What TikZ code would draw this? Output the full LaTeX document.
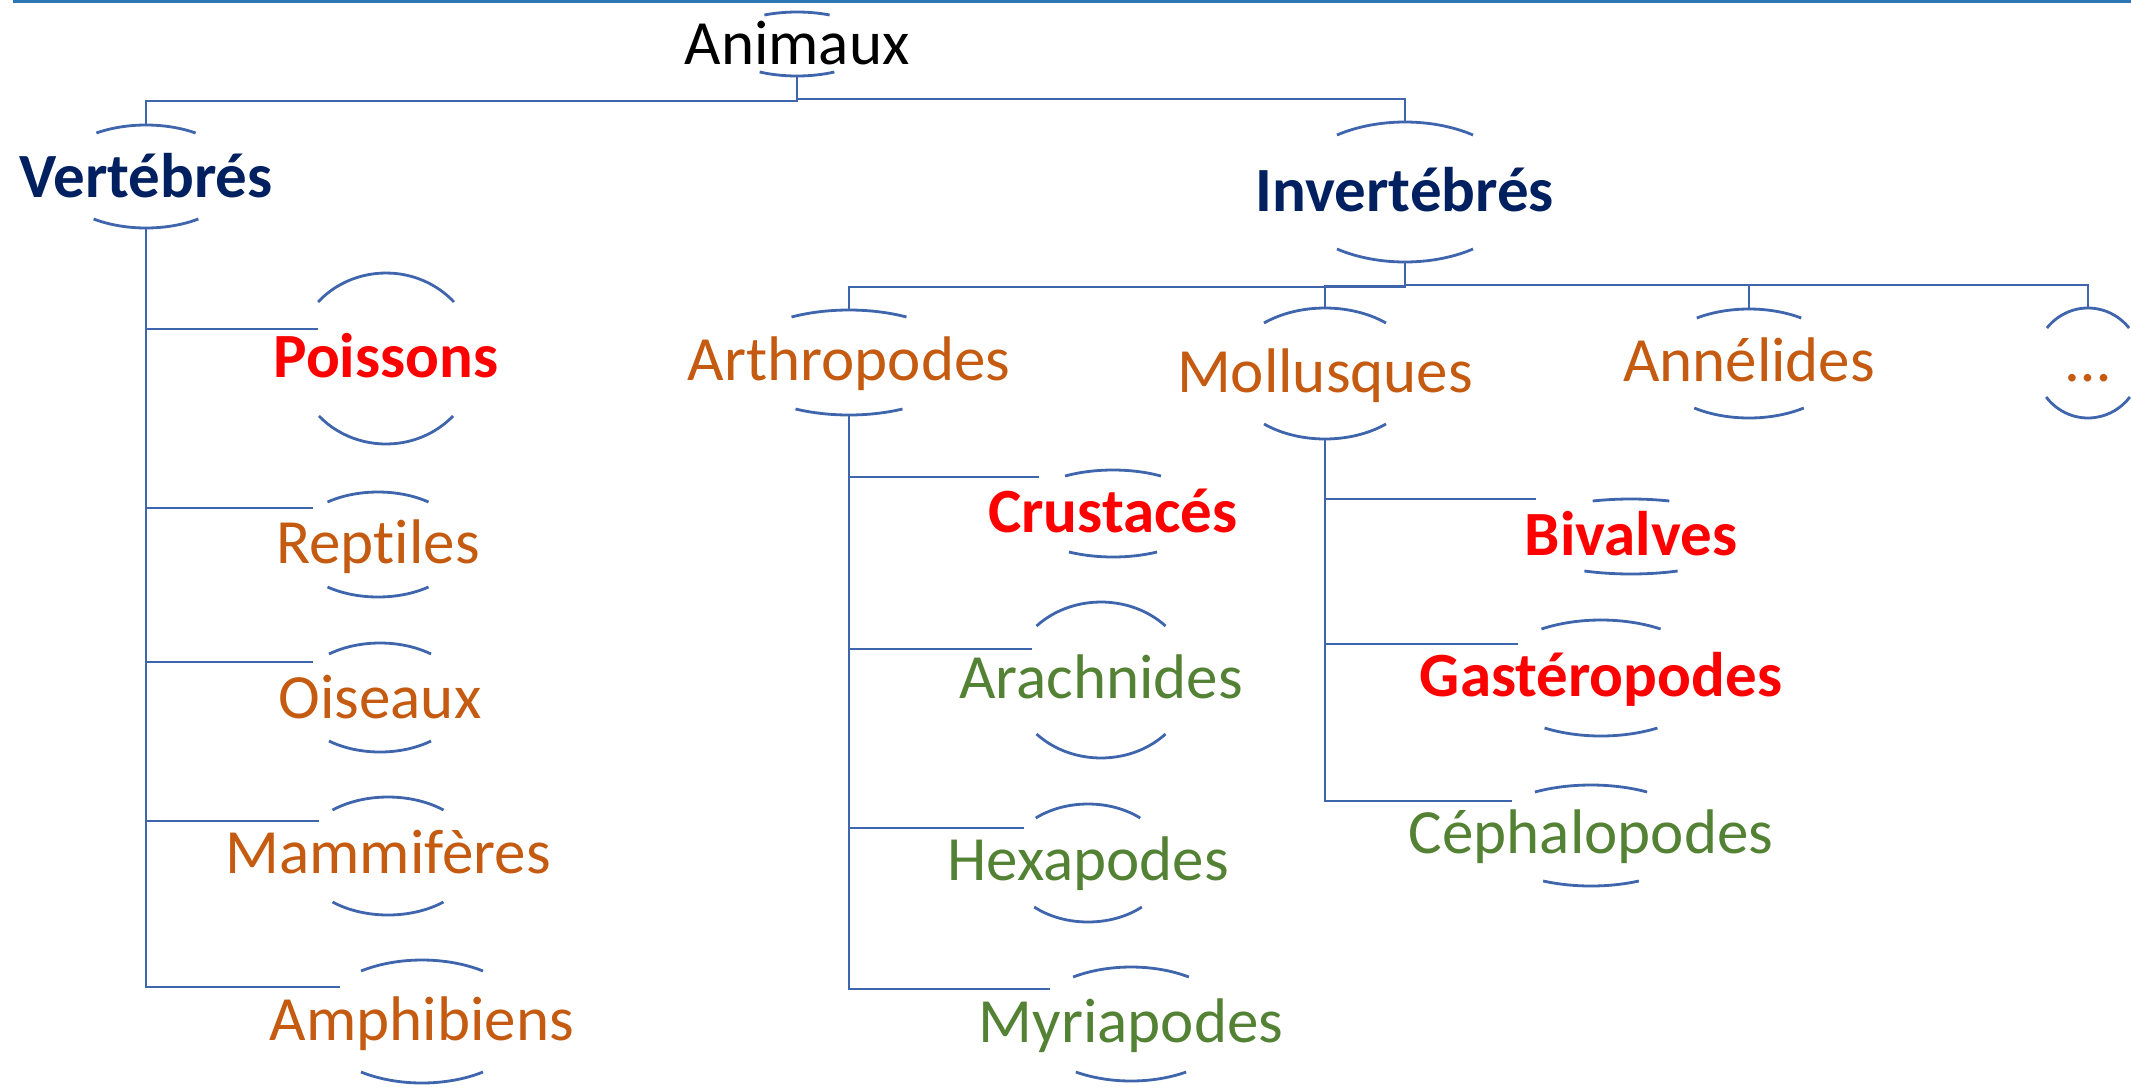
\documentclass[tikz,border=0pt]{standalone}
\usepackage{fontspec}
\setmainfont{Carlito}[Ligatures=NoCommon]
\definecolor{navy}{HTML}{002060}
\definecolor{redt}{HTML}{FF0000}
\definecolor{oranget}{HTML}{C55A11}
\definecolor{greent}{HTML}{548235}
\definecolor{linec}{HTML}{3F65AD}
\definecolor{topblue}{HTML}{2E75B6}
\newcommand{\ovarcs}[7]{%
 \pgfmathsetmacro\ovC{(#3+#5)/2}%
 \pgfmathsetmacro\ovB{(#5-#3)/2}%
 \pgfmathsetmacro\ovTA{asin(min(1,(\ovC-#4)/\ovB))}%
 \pgfmathsetmacro\ovTB{asin(min(1,(#6-\ovC)/\ovB))}%
 \pgfmathsetmacro\ovA{#7/cos((\ovTA+\ovTB)/2)}%
 \pgfmathsetmacro\ovAX{\ovA*0.5}%
 \pgfmathsetmacro\ovBY{\ovB*0.5}%
 \coordinate (#1-top) at (#2,#3);%
 \coordinate (#1-bot) at (#2,#5);%
 \draw[arcline] (#2,\ovC) ++(180-\ovTA:\ovAX pt and \ovBY pt) arc[start angle=180-\ovTA, end angle=\ovTA, x radius=\ovAX pt, y radius=\ovBY pt];%
 \draw[arcline] (#2,\ovC) ++(180+\ovTB:\ovAX pt and \ovBY pt) arc[start angle=180+\ovTB, end angle=360-\ovTB, x radius=\ovAX pt, y radius=\ovBY pt];%
}
\begin{document}
\begin{tikzpicture}[x=0.5pt,y=-0.5pt,
  arcline/.style={draw=linec, line width=1.4pt},
  conn/.style={draw=linec, line width=1.4pt},
  lab/.style={anchor=base, inner sep=0pt, font=\fontsize{31.5}{37}\selectfont},
  labb/.style={lab, font=\fontsize{31.5}{37}\selectfont\bfseries}]
\useasboundingbox (0,0) rectangle (2131,1087);
\fill[white] (0,0) rectangle (2131,1087);
\draw[topblue, line width=1.4pt] (13,1.2) -- (2131,1.2);

% texts
\node[lab, text=black] (anim) at (797,64) {Animaux};
\node[labb, text=navy] (vert) at (146,197) {Vertébrés};
\node[labb, text=navy] (inv) at (1405,211) {Invertébrés};
\node[labb, text=redt] (pois) at (386,377) {Poissons};
\node[lab, text=oranget] (rept) at (378,563) {Reptiles};
\node[lab, text=oranget] (ois) at (380,718) {Oiseaux};
\node[lab, text=oranget] (mam) at (388,873) {Mammifères};
\node[lab, text=oranget] (amph) at (422,1040) {Amphibiens};
\node[lab, text=oranget] (arth) at (849,380) {Arthropodes};
\node[lab, text=oranget] (moll) at (1325,392) {Mollusques};
\node[lab, text=oranget] (anne) at (1749,381) {Annélides};
\node[lab, text=oranget] (dots) at (2088,381) {…};
\node[labb, text=redt] (crus) at (1113,532) {Crustacés};
\node[lab, text=greent] (arach) at (1101,698) {Arachnides};
\node[lab, text=greent] (hexa) at (1088,880) {Hexapodes};
\node[lab, text=greent] (myria) at (1131,1042) {Myriapodes};
\node[labb, text=redt] (biv) at (1631,555) {Bivalves};
\node[labb, text=redt] (gast) at (1601,696) {Gastéropodes};
\node[lab, text=greent] (ceph) at (1591,853) {Céphalopodes};

% arcs: name, cx, top apex, top end, bottom apex, bottom end, half width
\ovarcs{anim}{797}{12}{15}{76}{72}{35}
\ovarcs{vert}{146}{125}{133}{228}{219}{51}
\ovarcs{inv}{1405}{122}{135}{262}{249}{68}
\ovarcs{pois}{386}{273}{302}{444}{416}{67.5}
\ovarcs{rept}{378}{492}{502}{597}{587}{50.5}
\ovarcs{ois}{380}{643}{654}{752}{741}{51}
\ovarcs{mam}{388}{797}{810}{915}{902}{55.5}
\ovarcs{amph}{422}{960}{971}{1083}{1072}{61}
\ovarcs{arth}{849}{310}{317}{415}{409}{55.5}
\ovarcs{moll}{1325}{308}{323}{439}{424}{61}
\ovarcs{anne}{1749}{309}{318}{418}{408}{53.5}
\ovarcs{dots}{2088}{308}{328}{418}{397}{41.5}
\ovarcs{crus}{1113}{470}{476}{557}{552}{46}
\ovarcs{arach}{1101}{602}{626}{758}{734}{64.5}
\ovarcs{hexa}{1088}{804}{818}{922}{907}{53}
\ovarcs{myria}{1131}{967}{977}{1081}{1072}{56.5}
\ovarcs{biv}{1631}{499}{501}{574}{571}{42.5}
\ovarcs{gast}{1601}{620}{629}{736}{728}{58}
\ovarcs{ceph}{1591}{785}{792}{886}{881}{52}

% connection points on the left of list children
\coordinate (pois-w) at (318,329);
\coordinate (rept-w) at (313,508);
\coordinate (ois-w) at (313,662);
\coordinate (mam-w) at (319,821);
\coordinate (amph-w) at (340,987);
\coordinate (crus-w) at (1039,477);
\coordinate (arach-w) at (1032,649);
\coordinate (hexa-w) at (1024,828);
\coordinate (myria-w) at (1050,989);
\coordinate (biv-w) at (1536,499);
\coordinate (gast-w) at (1518,644);
\coordinate (ceph-w) at (1512,801);

% connectors
\draw[conn] (anim-bot) -- ++(0,25) -| (vert-top);
\draw[conn] (anim-bot) -- ++(0,23) -| (inv-top);
\foreach \c in {pois,rept,ois,mam,amph} \draw[conn] (vert-bot) |- (\c-w);
\draw[conn] (inv-bot) -- ++(0,25) -| (arth-top);
\draw[conn] (inv-bot) -- ++(0,24) -| (moll-top);
\draw[conn] (inv-bot) -- ++(0,23) -| (anne-top);
\draw[conn] (inv-bot) -- ++(0,23) -| (dots-top);
\foreach \c in {crus,arach,hexa,myria} \draw[conn] (arth-bot) |- (\c-w);
\foreach \c in {biv,gast,ceph} \draw[conn] (moll-bot) |- (\c-w);
\end{tikzpicture}
\end{document}
